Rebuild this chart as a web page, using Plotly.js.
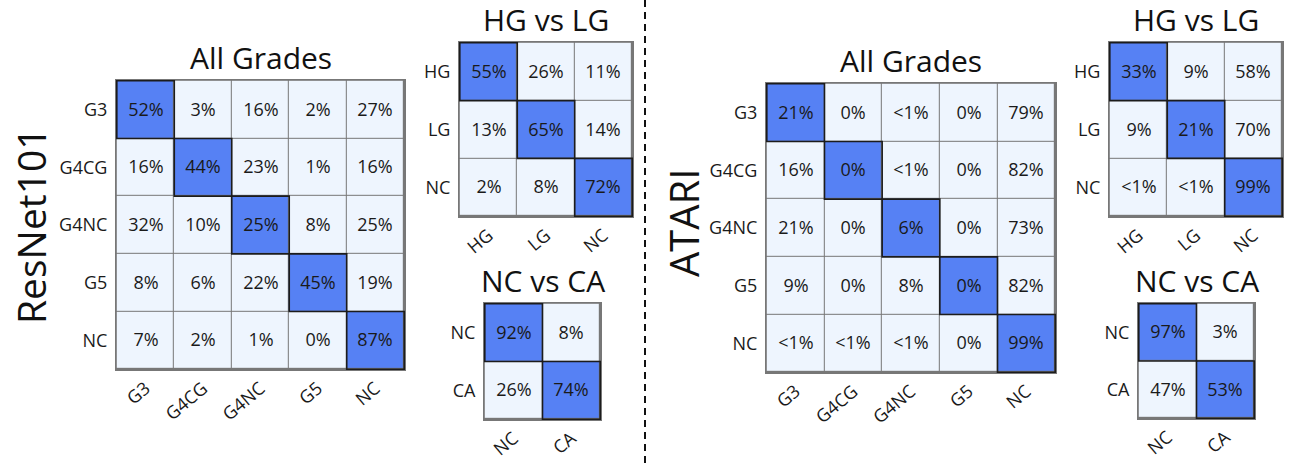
<!DOCTYPE html>
<html>
<head>
<meta charset="utf-8">
<script src="https://cdn.plot.ly/plotly-3.0.1.min.js"></script>
<style>html,body{margin:0;padding:0;background:#fff}#chart{width:1292px;height:463px}</style>
</head>
<body>
<div id="chart"></div>
<script>
// ---------- data ----------
const allGradeCats = ['G3', 'G4CG', 'G4NC', 'G5', 'NC'];
const hgLgCats = ['HG', 'LG', 'NC'];
const ncCaCats = ['NC', 'CA'];

const resnetAll = [
  [52, 3, 16, 2, 27],
  [16, 44, 23, 1, 16],
  [32, 10, 25, 8, 25],
  [8, 6, 22, 45, 19],
  [7, 2, 1, 0, 87]
];
const resnetHgLg = [
  [55, 26, 11],
  [13, 65, 14],
  [2, 8, 72]
];
const resnetNcCa = [
  [92, 8],
  [26, 74]
];
const atariAll = [
  [21, 0, '<1', 0, 79],
  [16, 0, '<1', 0, 82],
  [21, 0, 6, 0, 73],
  [9, 0, 8, 0, 82],
  ['<1', '<1', '<1', 0, 99]
];
const atariHgLg = [
  [33, 9, 58],
  [9, 21, 70],
  ['<1', '<1', 99]
];
const atariNcCa = [
  [97, 3],
  [47, 53]
];
const panelTitles = ['All Grades', 'HG vs LG', 'NC vs CA'];
const modelNames = ['ResNet101', 'ATARI'];

// ---------- layout helpers ----------
const W = 1292, H = 463;
const FONT = 'Open Sans, Noto Sans, sans-serif';
const BLUE = '#5681F4';
const LIGHT = '#EEF5FE';
const GRID = '#777777';

// pixel boxes [left, top, right, bottom]
const boxes = [
  [116, 80, 405, 370],
  [459, 42, 633, 217],
  [484, 303, 601, 420],
  [766, 83, 1056, 373],
  [1109, 42, 1283, 217],
  [1138, 303, 1255, 419]
];
const panels = [
  {cats: allGradeCats, vals: resnetAll, title: panelTitles[0]},
  {cats: hgLgCats, vals: resnetHgLg, title: panelTitles[1]},
  {cats: ncCaCats, vals: resnetNcCa, title: panelTitles[2]},
  {cats: allGradeCats, vals: atariAll, title: panelTitles[0]},
  {cats: hgLgCats, vals: atariHgLg, title: panelTitles[1]},
  {cats: ncCaCats, vals: atariNcCa, title: panelTitles[2]}
];

const traces = [];
const layout = {
  width: W, height: H,
  margin: {l: 0, r: 0, t: 0, b: 0},
  paper_bgcolor: '#ffffff',
  plot_bgcolor: GRID,
  showlegend: false,
  font: {family: FONT, color: '#1a1a1a'},
  shapes: [],
  annotations: []
};

panels.forEach((p, k) => {
  const idx = k + 1;
  const xa = 'x' + (idx === 1 ? '' : idx);
  const ya = 'y' + (idx === 1 ? '' : idx);
  const n = p.cats.length;
  const z = p.vals.map((row, i) => row.map((v, j) => (i === j ? 1 : 0)));
  const text = p.vals.map(row => row.map(v => v + '%'));
  traces.push({
    type: 'heatmap',
    x: p.cats, y: p.cats, z: z, text: text,
    texttemplate: '%{text}',
    textfont: {family: FONT, size: 18, color: '#1a1a1a'},
    colorscale: [[0, LIGHT], [1, BLUE]],
    zmin: 0, zmax: 1, showscale: false,
    xgap: 1, ygap: 1,
    hoverinfo: 'skip',
    xaxis: xa, yaxis: ya
  });
  const b = boxes[k];
  const dx = [b[0] / W, b[2] / W];
  const dy = [1 - b[3] / H, 1 - b[1] / H];
  const axBase = {
    type: 'category', showgrid: false, zeroline: false, fixedrange: true,
    showline: true, mirror: true, linecolor: GRID, linewidth: 1,
    ticks: '', tickfont: {family: FONT, size: 18, color: '#1a1a1a'}
  };
  layout['xaxis' + (idx === 1 ? '' : idx)] = Object.assign({}, axBase, {
    domain: dx, anchor: ya, side: 'bottom', tickangle: -40,
    categoryorder: 'array', categoryarray: p.cats, ticklabelstandoff: 0
  });
  layout['yaxis' + (idx === 1 ? '' : idx)] = Object.assign({}, axBase, {
    domain: dy, anchor: xa, autorange: 'reversed',
    categoryorder: 'array', categoryarray: p.cats, ticklabelstandoff: 4
  });
  for (let i = 0; i < n; i++) {
    layout.shapes.push({
      type: 'rect', xref: xa, yref: ya,
      x0: i - 0.5, x1: i + 0.5, y0: i - 0.5, y1: i + 0.5,
      line: {color: '#1c1c1c', width: 1.6}, fillcolor: 'rgba(0,0,0,0)', layer: 'above'
    });
  }
  layout.annotations.push({
    text: p.title, xref: 'paper', yref: 'paper',
    x: (dx[0] + dx[1]) / 2, y: dy[1], xanchor: 'center', yanchor: 'bottom',
    yshift: 0, showarrow: false,
    font: {family: FONT, size: 30, color: '#111'}
  });
});

// model labels
layout.annotations.push({
  text: modelNames[0], xref: 'paper', yref: 'paper',
  x: 30 / W, y: 1 - 226 / H, xanchor: 'center', yanchor: 'middle',
  textangle: -90, showarrow: false, font: {family: FONT, size: 39, color: '#111'}
});
layout.annotations.push({
  text: modelNames[1], xref: 'paper', yref: 'paper',
  x: 683 / W, y: 1 - 223 / H, xanchor: 'center', yanchor: 'middle',
  textangle: -90, showarrow: false, font: {family: FONT, size: 40, color: '#111'}
});

// dashed divider
layout.shapes.push({
  type: 'line', xref: 'paper', yref: 'paper',
  x0: 645 / W, x1: 645 / W, y0: 0, y1: 1,
  line: {color: '#111', width: 2, dash: '7px,5px'}
});

Plotly.newPlot('chart', traces, layout, {staticPlot: true, displayModeBar: false});
</script>
</body>
</html>
